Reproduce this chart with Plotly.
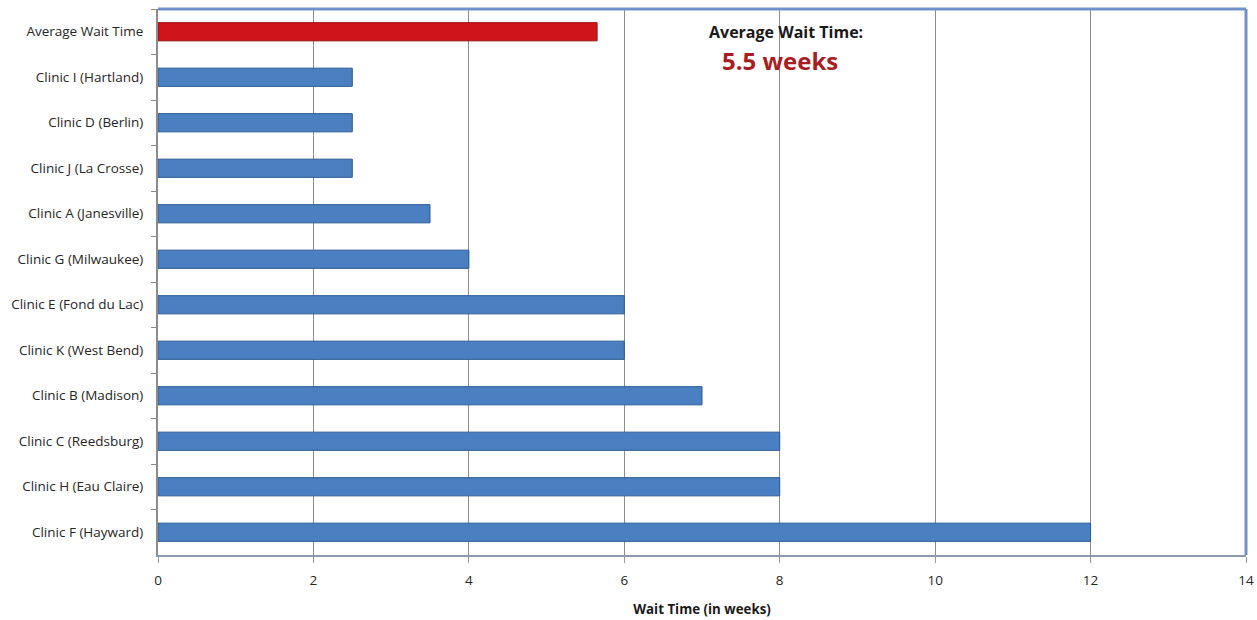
import plotly.graph_objects as go

categories = ["Average Wait Time", "Clinic I (Hartland)", "Clinic D (Berlin)", "Clinic J (La Crosse)",
              "Clinic A (Janesville)", "Clinic G (Milwaukee)", "Clinic E (Fond du Lac)",
              "Clinic K (West Bend)", "Clinic B (Madison)", "Clinic C (Reedsburg)",
              "Clinic H (Eau Claire)", "Clinic F (Hayward)"]
wait_weeks = [5.65, 2.5, 2.5, 2.5, 3.5, 4, 6, 6, 7, 8, 8, 12]
x_ticks = [0, 2, 4, 6, 8, 10, 12, 14]
avg_label_title = "Average Wait Time:"
avg_label_value = "5.5 weeks"

colors = ["#d0141c" if c == "Average Wait Time" else "#4a7fc1" for c in categories]
line_colors = ["#9a0c10" if c == "Average Wait Time" else "#2b5a94" for c in categories]

fig = go.Figure()
fig.add_trace(go.Bar(
    y=categories, x=wait_weeks, orientation="h",
    marker=dict(color=colors, line=dict(color=line_colors, width=1)),
    hoverinfo="x+y",
))

font_family = "Open Sans, Lato, sans-serif"

fig.update_layout(
    width=1257, height=620,
    margin=dict(l=158, r=11, t=9, b=65, autoexpand=False),
    paper_bgcolor="white", plot_bgcolor="white",
    bargap=0.6,
    showlegend=False,
    font=dict(family=font_family, size=13, color="#262626"),
    xaxis=dict(
        range=[0, 14], tickvals=x_ticks, ticktext=[str(v) for v in x_ticks],
        showgrid=True, gridcolor="#8c8c8c", gridwidth=1,
        ticks="outside", ticklen=6, tickcolor="#8c9aae",
        showline=True, linecolor="#8c9aae", linewidth=2,
        zeroline=False, ticklabelstandoff=6, automargin=False,
        tickfont=dict(size=13.5, color="#262626"),
        title=dict(text="<b>Wait Time (in weeks)</b>", font=dict(size=13.3, color="#1a1a1a"), standoff=16),
    ),
    yaxis=dict(
        categoryorder="array", categoryarray=categories, autorange="reversed",
        ticks="outside", tickson="boundaries", ticklen=5, tickcolor="#8c8c8c",
        showline=True, linecolor="#8c8c8c", linewidth=2,
        showgrid=False, ticklabelstandoff=10, automargin=False,
        tickfont=dict(size=13.5, color="#262626"),
    ),
    shapes=[
        dict(type="line", xref="paper", yref="paper", x0=0, x1=1, y0=1, y1=1,
             line=dict(color="#6f92c8", width=3)),
        dict(type="line", xref="paper", yref="paper", x0=1, x1=1, y0=0, y1=1,
             line=dict(color="#6f92c8", width=3)),
    ],
    annotations=[
        dict(x=8.08, y=0, xref="x", yref="y", text="<b>" + avg_label_title + "</b>",
             showarrow=False, font=dict(size=16, color="#1a1a1a", family=font_family)),
        dict(x=8.0, y=0.63, xref="x", yref="y", text="<b>" + avg_label_value + "</b>",
             showarrow=False, font=dict(size=24, color="#a81c22", family=font_family)),
    ],
)

fig.write_html("out.html")
